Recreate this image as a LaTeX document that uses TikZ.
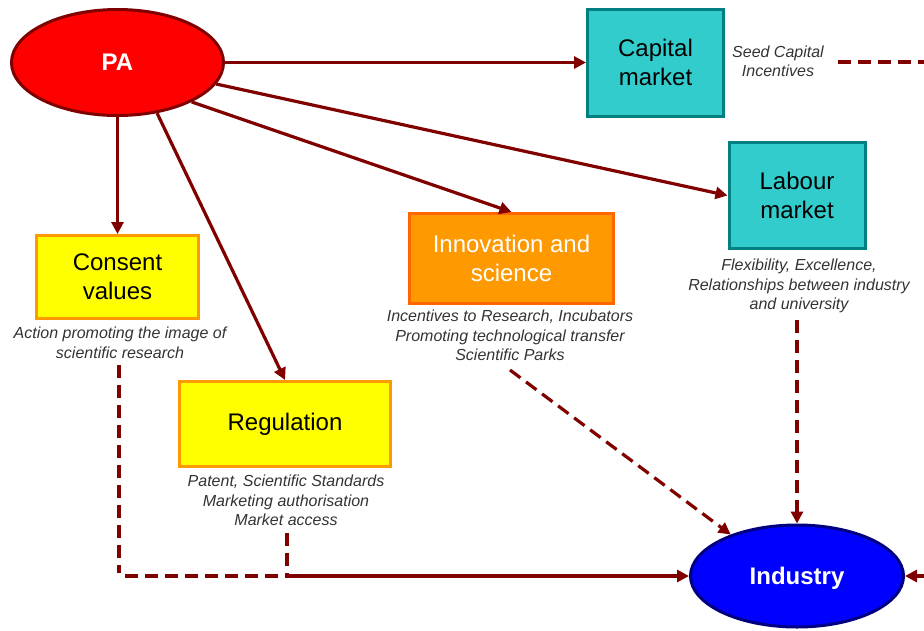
\documentclass[tikz,border=0pt]{standalone}
\usepackage{fontspec}
\setmainfont{Liberation Sans}
\usetikzlibrary{arrows.meta,shapes.geometric}
\definecolor{linkred}{HTML}{800000}
\definecolor{paRed}{HTML}{FF0000}
\definecolor{tealFill}{HTML}{33CCCC}
\definecolor{tealLine}{HTML}{008080}
\definecolor{orangeFill}{HTML}{FF9900}
\definecolor{orangeLine}{HTML}{FF6600}
\definecolor{yellowFill}{HTML}{FFFF00}
\definecolor{indBlue}{HTML}{0000FF}
\definecolor{indLine}{HTML}{000080}
\definecolor{noteGray}{HTML}{333333}
\tikzset{
  boxtext/.style={font=\fontsize{24}{29}\selectfont, align=center, inner sep=0pt},
  marketbox/.style={boxtext, rectangle, draw=tealLine, fill=tealFill, line width=3pt, text=black},
  innobox/.style={boxtext, rectangle, draw=orangeLine, fill=orangeFill, line width=3pt, text=white},
  yellowbox/.style={boxtext, rectangle, draw=orangeFill, fill=yellowFill, line width=3pt, text=black},
  blob/.style={ellipse, inner sep=0pt, line width=3pt, text=white, text depth=0pt,
    font=\fontsize{24}{28}\selectfont\bfseries},
  note/.style={font=\fontsize{16}{19.5}\selectfont\itshape, text=noteGray, align=center, inner sep=0pt},
  link/.style={draw=linkred, line width=3.2pt, -{Triangle[length=12pt,width=12pt]}},
  hint/.style={draw=linkred, line width=3.2pt, dash pattern=on 13pt off 7pt},
  hintarr/.style={hint, -{Triangle[length=12pt,width=12pt]}}
}
\begin{document}
\begin{tikzpicture}[x=1pt,y=-1pt]
\useasboundingbox (0,0) rectangle (924,630);

% actors
\node[blob, fill=paRed, draw=linkred, minimum width=212pt, minimum height=106pt] (pa) at (117.5,62.5) {PA};
\node[blob, fill=indBlue, draw=indLine, minimum width=213pt, minimum height=102pt] (ind) at (797,576) {Industry};

% policy areas
\node[marketbox, minimum width=136pt, minimum height=107pt] (cap) at (655.5,62.5) {Capital\\market};
\node[marketbox, minimum width=136pt, minimum height=106pt] (lab) at (797,195.5) {Labour\\market};
\node[innobox, minimum width=204pt, minimum height=90pt] (inno) at (511.5,258.5) {Innovation and\\science};
\node[yellowbox, minimum width=162pt, minimum height=83pt] (cons) at (117.5,277) {Consent\\values};
\node[yellowbox, minimum width=211pt, minimum height=85pt] (reg) at (285,424) {Regulation};

% instruments
\node[note] (capnote) at (778,61.5) {Seed Capital\\Incentives};
\node[note, anchor=north] (labnote) at (799,259) {Flexibility, Excellence,\\Relationships between industry\\and university};
\node[note, anchor=north] (innonote) at (510,310) {Incentives to Research, Incubators\\Promoting technological transfer\\Scientific Parks};
\node[note, anchor=north] (consnote) at (120,327) {Action promoting the image of\\scientific research};
\node[note, anchor=north] (regnote) at (286,475) {Patent, Scientific Standards\\Marketing authorisation\\Market access};

% free ends and junctions
\coordinate (consstart) at (119,365);
\coordinate (consturn) at (119,573);
\coordinate (consrun) at (125,576);
\coordinate (regstart) at (287,533);
\coordinate (join) at (287,576);
\coordinate (innostart) at (510,370);
\coordinate (labstart) at (797,320);
\coordinate (capstart) at (838,62);
\coordinate (capend) at (924,62);
\coordinate (rightin) at (924,576);

% public administration actions
\draw[link] (pa) -- (cap);
\draw[link] (pa) -- (lab.west);
\draw[link] (pa.-28) -- (inno.north);
\draw[link] (pa.-52) -- (reg.north);
\draw[link] (pa.south) -- (cons.north);

% effects on industry
\draw[hint] (consstart) -- (consturn);
\draw[hint] (consrun) -- (join);
\draw[hint] (regstart) -- (join);
\draw[link] (join) -- (ind.west);
\draw[hintarr] (innostart) -- (ind.148);
\draw[hintarr] (labstart) -- (ind.north);
\draw[hint] (capstart) -- (capend);
\draw[link] (rightin) -- (ind.east);
\end{tikzpicture}
\end{document}
